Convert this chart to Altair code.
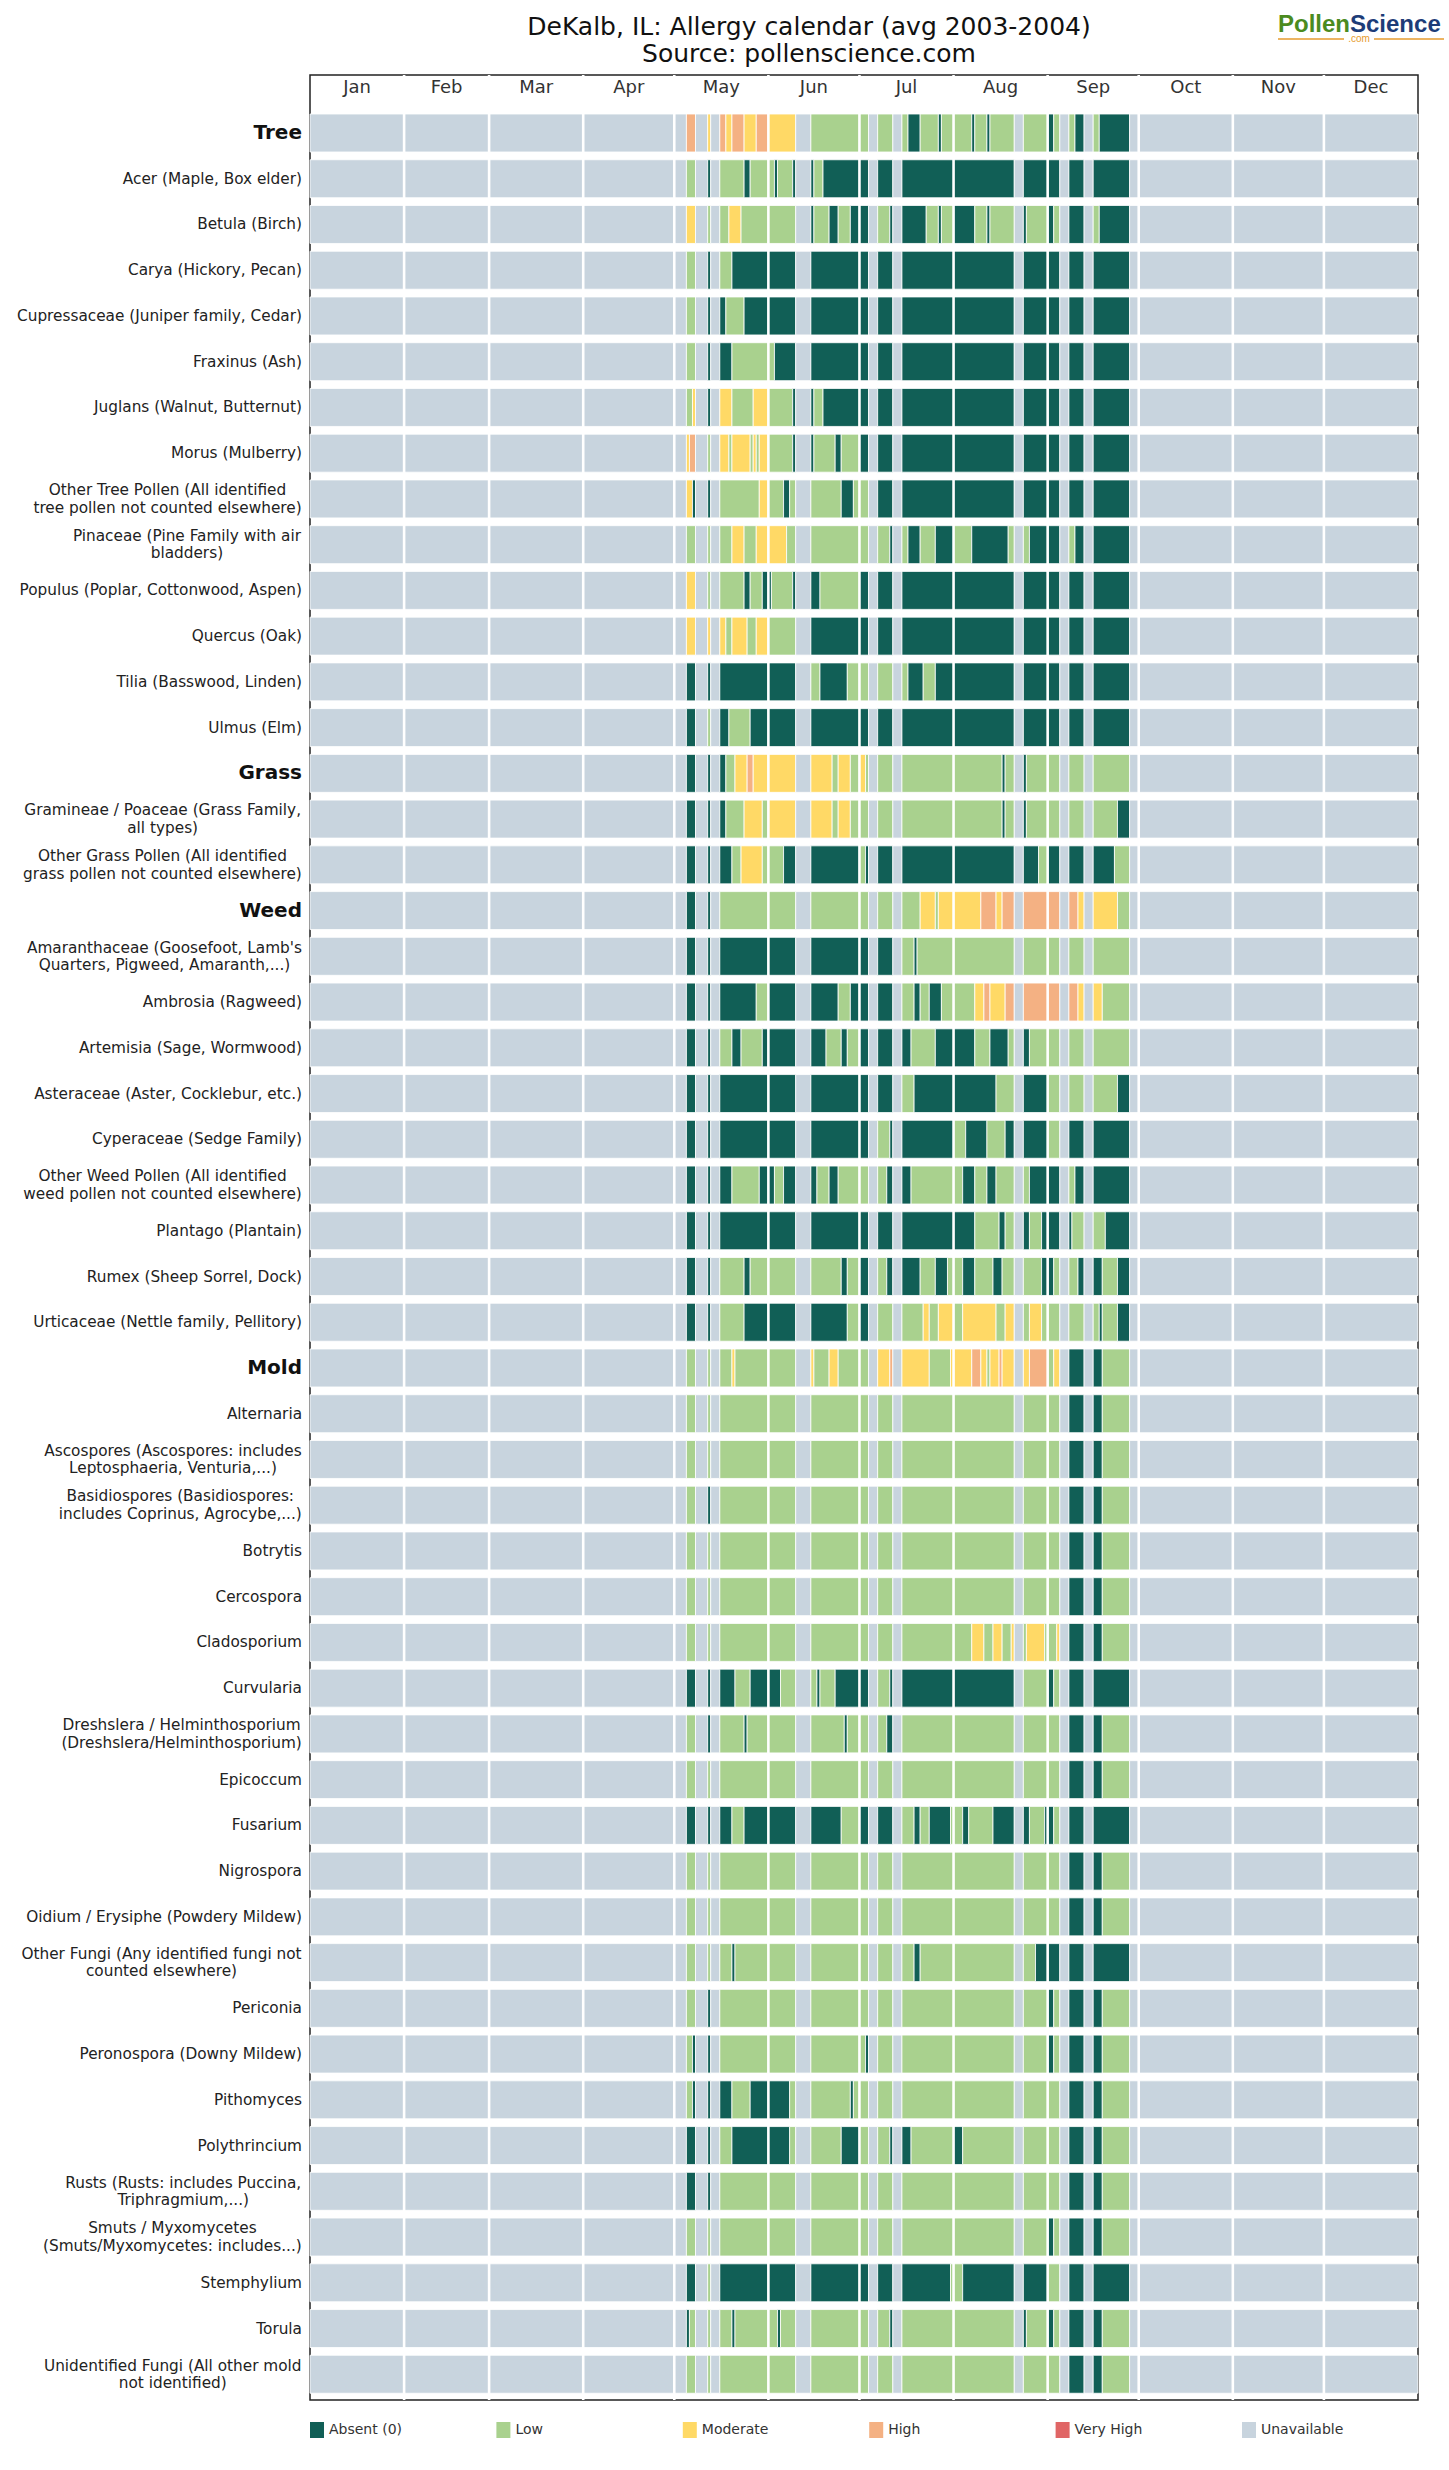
import altair as alt
import pandas as pd

# ---------------- data ----------------
MONTHS = ["Jan", "Feb", "Mar", "Apr", "May", "Jun", "Jul", "Aug", "Sep", "Oct", "Nov", "Dec"]
MONTH_DAYS = [31, 28, 31, 30, 31, 30, 31, 31, 30, 31, 30, 31]
LEVELS = ["Absent (0)", "Low", "Moderate", "High", "Very High", "Unavailable"]
LEVEL_CODES = ["A", "L", "M", "H", "V", "U"]
LEVEL_COLORS = ["#115f56", "#a9d18e", "#ffd966", "#f4b183", "#e06666", "#c8d4de"]

TITLE_LINES = ["DeKalb, IL: Allergy calendar (avg 2003-2004)", "Source: pollenscience.com"]
LOGO_PARTS = ["Pollen", "Science", ".com"]
GROUP_HEADERS = ["Tree", "Grass", "Weed", "Mold"]

# run-length codes per month, May | Jun | Jul | Aug | Sep (other months unavailable)
TREE_ROWS = [
    ("Tree", "U4 H3 U4 M1 U3 H2 M2 H4 M4 H4 | M9 U5 L16 | L3 U3 L5 U3 L2 A4 L6 A1 L4 | L6 A1 L4 A1 L8 U3 L8 | A2 L2 U3 L2 A3 U3 L2 A10 U3"),
    ("Acer (Maple, Box elder)", "U4 L3 U4 A1 U3 L8 A2 L6 | L2 A1 L5 A1 U5 A1 L3 A12 | A3 U3 A5 U3 A17 | A20 U3 A8 | A4 U3 A5 U3 A12 U3"),
    ("Betula (Birch)", "U4 M3 U4 L1 U3 L3 M4 L9 | L9 U5 A1 L5 A3 L4 A3 | A3 U3 L4 A1 U3 A8 L4 A1 L4 | A7 L4 A1 L8 U3 A1 L7 | A2 L2 U3 A5 U3 L2 A10 U3"),
    ("Carya (Hickory, Pecan)", "U4 L3 U4 A1 U3 L4 A12 | A9 U5 A16 | A3 U3 A5 U3 A17 | A20 U3 A8 | A4 U3 A5 U3 A12 U3"),
    ("Cupressaceae (Juniper family, Cedar)", "U4 L3 U4 A1 U3 A2 L6 A8 | A9 U5 A16 | A3 U3 A5 U3 A17 | A20 U3 A8 | A4 U3 A5 U3 A12 U3"),
    ("Fraxinus (Ash)", "U4 L3 U4 A1 U3 A4 L12 | L2 A7 U5 A16 | A3 U3 A5 U3 A17 | A20 U3 A8 | A4 U3 A5 U3 A12 U3"),
    ("Juglans (Walnut, Butternut)", "U4 L2 M1 U4 A1 U3 M4 L7 M5 | L8 A1 U5 A1 L3 A12 | A3 U3 A5 U3 A17 | A20 U3 A8 | A4 U3 A5 U3 A12 U3"),
    ("Morus (Mulberry)", "U4 M1 H2 U4 L1 U3 M3 L1 M6 L1 M1 L1 M3 | L8 A1 U5 A1 L7 A2 L6 | A3 U3 A5 U3 A17 | A20 U3 A8 | A4 U3 A5 U3 A12 U3"),
    ("Other Tree Pollen (All identified\ntree pollen not counted elsewhere)", "U4 M2 A1 U4 A1 U3 L13 M3 | L5 A2 L2 U5 L10 A4 L2 | L3 U3 A5 U3 A17 | A20 U3 A8 | A4 U3 A5 U3 A12 U3"),
    ("Pinaceae (Pine Family with air\nbladders)", "U4 L3 U4 L1 U3 L4 M4 L4 M4 | M6 L3 U5 L16 | L3 U3 L4 A1 U3 L2 A4 L5 A6 | L6 A12 L2 U3 L2 A6 | A4 U3 L2 A3 U3 A12 U3"),
    ("Populus (Poplar, Cottonwood, Aspen)", "U4 M3 U4 L1 U3 L8 A2 L4 A2 | A1 L7 A1 U5 A3 L13 | A3 U3 A5 U3 A17 | A20 U3 A8 | A4 U3 A5 U3 A12 U3"),
    ("Quercus (Oak)", "U4 M3 U4 M1 U3 M2 L2 M5 L3 M4 | L9 U5 A16 | A3 U3 A5 U3 A17 | A20 U3 A8 | A4 U3 A5 U3 A12 U3"),
    ("Tilia (Basswood, Linden)", "U4 A3 U4 A1 U3 A16 | A9 U5 L3 A9 L4 | L3 U3 L5 U3 L2 A5 L4 A6 | A20 U3 A8 | A4 U3 A5 U3 A12 U3"),
    ("Ulmus (Elm)", "U4 A3 U4 L1 U3 A3 L7 A6 | A9 U5 A16 | A3 U3 A5 U3 A17 | A20 U3 A8 | A4 U3 A5 U3 A12 U3"),
]
GRASS_ROWS = [
    ("Grass", "U4 A3 U4 A1 U3 A2 L3 M4 H2 M5 | M9 U5 M7 L2 M4 L3 | M2 L1 U3 L5 U3 L17 | L16 A1 L3 U3 A1 L7 | L4 U3 L5 U3 L12 U3"),
    ("Gramineae / Poaceae (Grass Family,\nall types)", "U4 A3 U4 A1 U3 A2 L6 M6 L2 | M9 U5 M7 L2 M4 L3 | L3 U3 L5 U3 L17 | L16 A1 L3 U3 A1 L7 | L4 U3 L5 U3 L8 A4 U3"),
    ("Other Grass Pollen (All identified\ngrass pollen not counted elsewhere)", "U4 A3 U4 A1 U3 A4 L3 M7 L2 | L5 A4 U5 A16 | L2 A1 U3 A5 U3 A17 | A20 U3 A5 L3 | A4 U3 A5 U3 A7 L5 U3"),
]
WEED_ROWS = [
    ("Weed", "U4 A3 U4 A1 U3 L16 | L9 U5 L16 | L3 U3 L5 U3 L6 M5 L1 M5 | M9 H5 M2 H4 U3 H8 | H4 U3 H3 M2 U3 M8 L4 U3"),
    ("Amaranthaceae (Goosefoot, Lamb's\nQuarters, Pigweed, Amaranth,...)", "U4 A3 U4 A1 U3 A16 | A9 U5 A16 | A3 U3 A5 U3 L4 A1 L12 | L20 U3 L8 | L4 U3 L5 U3 L12 U3"),
    ("Ambrosia (Ragweed)", "U4 A3 U4 A1 U3 A12 L4 | A9 U5 A9 L4 A3 | A3 U3 A5 U3 L4 A2 L3 A4 L4 | L7 M3 H2 M5 H3 U3 H8 | H4 U3 H3 M2 U3 M3 L9 U3"),
    ("Artemisia (Sage, Wormwood)", "U4 A3 U4 A1 U3 L4 A3 L7 A2 | A9 U5 A5 L5 A2 L4 | A3 U3 A5 U3 A3 L8 A6 | A7 L5 A6 L2 U3 A2 L6 | L4 U3 L5 U3 L12 U3"),
    ("Asteraceae (Aster, Cocklebur, etc.)", "U4 A3 U4 A1 U3 A16 | A9 U5 A16 | A3 U3 A5 U3 L4 A13 | A14 L6 U3 A8 | L4 U3 L5 U3 L8 A4 U3"),
    ("Cyperaceae (Sedge Family)", "U4 A3 U4 A1 U3 A16 | A9 U5 A16 | A3 U3 L4 A1 U3 A17 | L4 A7 L6 A3 U3 A8 | L4 U3 A5 U3 A12 U3"),
    ("Other Weed Pollen (All identified\nweed pollen not counted elsewhere)", "U4 A3 U4 A1 U3 A4 L9 A3 | A2 L3 A4 U5 A2 L4 A3 L7 | L3 U3 L3 A2 U3 A3 L14 | L3 A4 L4 A3 L6 U3 L2 A6 | A4 U3 L2 A3 U3 A12 U3"),
    ("Plantago (Plantain)", "U4 A3 U4 A1 U3 A16 | A9 U5 A16 | A3 U3 A5 U3 A17 | A7 L8 A2 L3 U3 A2 L4 A2 | A4 U3 A1 L4 U3 L4 A8 U3"),
    ("Rumex (Sheep Sorrel, Dock)", "U4 A3 U4 A1 U3 L8 A2 L6 | L9 U5 L10 A2 L4 | A3 U3 L3 A2 U3 A6 L5 A4 L2 | L3 A4 L6 A3 L4 U3 L6 A2 | A2 L2 U3 L3 A2 U3 A3 L5 A4 U3"),
    ("Urticaceae (Nettle family, Pellitory)", "U4 A3 U4 A1 U3 L8 A8 | A9 U5 A12 L4 | A3 U3 L5 U3 L7 M2 L3 M5 | L3 M11 L3 M3 U3 L2 M4 L2 | L4 U3 L5 U3 L2 A1 L5 A4 U3"),
]
MOLD_ROWS = [
    ("Mold", "U4 L3 U4 L1 U3 L4 M1 L11 | L9 U5 M1 L5 M3 L7 | L3 U3 M4 H1 U3 M9 L7 M1 | M6 H3 M2 L1 M3 H1 M4 U3 M2 H6 | L2 M2 U3 A5 U3 A3 L9 U3"),
    ("Alternaria", "U4 L3 U4 L1 U3 L16 | L9 U5 L16 | L3 U3 L5 U3 L17 | L20 U3 L8 | L4 U3 A5 U3 A3 L9 U3"),
    ("Ascospores (Ascospores: includes\nLeptosphaeria, Venturia,...)", "U4 L3 U4 L1 U3 L16 | L9 U5 L16 | L3 U3 L5 U3 L17 | L20 U3 L8 | L4 U3 A5 U3 A3 L9 U3"),
    ("Basidiospores (Basidiospores:\nincludes Coprinus, Agrocybe,...)", "U4 L3 U4 A1 U3 L16 | L9 U5 L16 | L3 U3 L5 U3 L17 | L20 U3 L8 | L4 U3 A5 U3 A3 L9 U3"),
    ("Botrytis", "U4 L3 U4 L1 U3 L16 | L9 U5 L16 | L3 U3 L5 U3 L17 | L20 U3 L8 | L4 U3 A5 U3 A3 L9 U3"),
    ("Cercospora", "U4 L3 U4 L1 U3 L16 | L9 U5 L16 | L3 U3 L5 U3 L17 | L20 U3 L8 | L4 U3 A5 U3 A3 L9 U3"),
    ("Cladosporium", "U4 L3 U4 L1 U3 L16 | L9 U5 L16 | L3 U3 L5 U3 L17 | L6 M4 L3 M3 L3 M1 U3 L1 M6 L1 | L3 M1 U3 A5 U3 A3 L9 U3"),
    ("Curvularia", "U4 A3 U4 A1 U3 A5 L5 A6 | A4 L5 U5 L2 A1 L5 A8 | A3 U3 L4 A1 U3 A17 | A20 U3 L8 | A2 L2 U3 A5 U3 A12 U3"),
    ("Dreshslera / Helminthosporium\n(Dreshslera/Helminthosporium)", "U4 L3 U4 A1 U3 L8 A1 L7 | L9 U5 L11 A1 L4 | L3 U3 L3 A2 U3 L17 | L20 U3 L8 | L4 U3 A5 U3 A3 L9 U3"),
    ("Epicoccum", "U4 L3 U4 L1 U3 L16 | L9 U5 L16 | L3 U3 L5 U3 L17 | L20 U3 L8 | L4 U3 A5 U3 A3 L9 U3"),
    ("Fusarium", "U4 A3 U4 A1 U3 A4 L4 A8 | A9 U5 A10 L6 | A3 U3 A5 U3 L4 A2 L3 A7 L1 | L3 A2 L8 A7 U3 A2 L5 A1 | A2 L2 U3 A5 U3 A12 U3"),
    ("Nigrospora", "U4 L3 U4 L1 U3 L16 | L9 U5 L16 | L3 U3 L5 U3 L17 | L20 U3 L8 | L4 U3 A5 U3 A3 L9 U3"),
    ("Oidium / Erysiphe (Powdery Mildew)", "U4 L3 U4 L1 U3 L16 | L9 U5 L16 | L3 U3 L5 U3 L17 | L20 U3 L8 | L4 U3 A5 U3 A3 L9 U3"),
    ("Other Fungi (Any identified fungi not\ncounted elsewhere)", "U4 L3 U4 L1 U3 L4 A1 L11 | L9 U5 L16 | L3 U3 L5 U3 L4 A2 L11 | L20 U3 L4 A4 | A4 U3 A5 U3 A12 U3"),
    ("Periconia", "U4 L3 U4 A1 U3 L16 | L9 U5 L16 | L3 U3 L5 U3 L17 | L20 U3 L8 | A2 L2 U3 A5 U3 A3 L9 U3"),
    ("Peronospora (Downy Mildew)", "U4 L2 A1 U4 A1 U3 L16 | L9 U5 L16 | L2 A1 U3 L5 U3 L17 | L20 U3 L8 | A2 L2 U3 A5 U3 A3 L9 U3"),
    ("Pithomyces", "U4 L2 A1 U4 A1 U3 A4 L6 A6 | A7 L2 U5 L13 A1 L2 | L3 U3 L5 U3 L17 | L20 U3 L8 | L4 U3 A5 U3 A3 L9 U3"),
    ("Polythrincium", "U4 A3 U4 A1 U3 L4 A12 | A7 L2 U5 L10 A6 | L3 U3 L4 A1 U3 A3 L14 | A3 L17 U3 L8 | L4 U3 A5 U3 A3 L9 U3"),
    ("Rusts (Rusts: includes Puccina,\nTriphragmium,...)", "U4 A3 U4 A1 U3 L16 | L9 U5 L16 | L3 U3 L5 U3 L17 | L20 U3 L8 | L4 U3 A5 U3 A3 L9 U3"),
    ("Smuts / Myxomycetes\n(Smuts/Myxomycetes: includes...)", "U4 L3 U4 L1 U3 L16 | L9 U5 L16 | L3 U3 L5 U3 L17 | L20 U3 L8 | A2 L2 U3 A5 U3 A3 L9 U3"),
    ("Stemphylium", "U4 A3 U4 L1 U3 A16 | A9 U5 A16 | A3 U3 A5 U3 A16 L1 | L3 A17 U3 A8 | L4 U3 A5 U3 A12 U3"),
    ("Torula", "U4 A1 L2 U4 L1 U3 L4 A1 L11 | L3 A1 L5 U5 L16 | L3 U3 L4 A1 U3 L17 | L20 U3 A1 L7 | A2 L2 U3 A5 U3 A3 L9 U3"),
    ("Unidentified Fungi (All other mold\nnot identified)", "U4 L3 U4 L1 U3 L16 | L9 U5 L16 | L3 U3 L5 U3 L17 | L20 U3 L8 | L4 U3 A5 U3 A3 L9 U3"),
]

ALL_ROWS = TREE_ROWS + GRASS_ROWS + WEED_ROWS + MOLD_ROWS

# ---------------- layout ----------------
PLOT_W, PLOT_H = 1108, 2325
PAD = {"left": 310, "top": 75, "right": 31, "bottom": 70}
ROW_STEP = 45.74
FIRST_ROW = 58.0
HALF = 0.415
Y_MIN = -FIRST_ROW / ROW_STEP
Y_MAX = (PLOT_H - FIRST_ROW) / ROW_STEP
MONTH_LABEL_Y = (13.0 - FIRST_ROW) / ROW_STEP
LABEL_RIGHT = -8
LABEL_SIZE = 15.3
LINE_GAP = 17.5 / ROW_STEP
FONT = "DejaVu Sans"

DV = {' ': 651, '!': 823, "'": 563, '(': 799, ')': 799, ',': 651, '-': 739, '.': 651, '/': 690, ':': 690,
      'A': 1401, 'B': 1405, 'C': 1430, 'D': 1577, 'E': 1294, 'F': 1178, 'G': 1587, 'H': 1540, 'I': 604,
      'J': 604, 'K': 1343, 'L': 1141, 'M': 1767, 'N': 1532, 'O': 1612, 'P': 1235, 'Q': 1612, 'R': 1423,
      'S': 1300, 'T': 1251, 'U': 1499, 'V': 1401, 'W': 2025, 'X': 1403, 'Y': 1251, 'Z': 1403,
      'a': 1255, 'b': 1300, 'c': 1126, 'd': 1300, 'e': 1260, 'f': 721, 'g': 1300, 'h': 1298, 'i': 569,
      'j': 569, 'k': 1186, 'l': 569, 'm': 1995, 'n': 1298, 'o': 1253, 'p': 1300, 'q': 1300, 'r': 842,
      's': 1067, 't': 803, 'u': 1298, 'v': 1212, 'w': 1675, 'x': 1212, 'y': 1212, 'z': 1075}


def text_w(s, size):
    return sum(DV.get(ch, 1303) for ch in s) / 2048.0 * size


def parse_month(spec, ndays):
    out = []
    for tok in spec.split():
        out.append((tok[0], int(tok[1:])))
    total = sum(n for _, n in out)
    if total < ndays:
        out.append(("U", ndays - total))
    elif total > ndays:
        trimmed, acc = [], 0
        for c, n in out:
            if acc >= ndays:
                break
            n = min(n, ndays - acc)
            trimmed.append((c, n))
            acc += n
        out = trimmed
    return out


month_start = [sum(MONTH_DAYS[:i]) for i in range(12)]
recs = []
for r, (label, spec) in enumerate(ALL_ROWS):
    parts = [p.strip() for p in spec.split("|")]
    for m in range(12):
        if 4 <= m <= 8:
            runs = parse_month(parts[m - 4], MONTH_DAYS[m])
        else:
            runs = [("U", MONTH_DAYS[m])]
        pos = month_start[m]
        for code, n in runs:
            recs.append({"row": r, "d0": pos, "d1": pos + n, "y0": r - HALF, "y1": r + HALF,
                         "level": LEVELS[LEVEL_CODES.index(code)]})
            pos += n
runs_df = pd.DataFrame(recs)

XS = alt.Scale(domain=[0, 365], nice=False, zero=False)
YS = alt.Scale(domain=[Y_MIN, Y_MAX], reverse=True, nice=False, zero=False)
CS = alt.Scale(domain=LEVELS, range=LEVEL_COLORS)

cells = alt.Chart(runs_df).mark_rect(stroke="white", strokeWidth=0.8).encode(
    x=alt.X("d0:Q", scale=XS, axis=None), x2="d1:Q",
    y=alt.Y("y0:Q", scale=YS, axis=None), y2="y1:Q",
    color=alt.Color("level:N", scale=CS, legend=None),
)

seps = alt.Chart(pd.DataFrame({"d": month_start[1:]})).mark_rule(color="white", strokeWidth=2.6).encode(
    x=alt.X("d:Q", scale=XS, axis=None))

month_df = pd.DataFrame({"name": MONTHS,
                         "mid": [month_start[i] + MONTH_DAYS[i] / 2 for i in range(12)],
                         "yv": [MONTH_LABEL_Y] * 12})
mlab = alt.Chart(month_df).mark_text(fontSize=18, font=FONT, color="#333333").encode(
    x=alt.X("mid:Q", scale=XS, axis=None), y=alt.Y("yv:Q", scale=YS, axis=None), text="name:N")

single, multi, groups = [], [], []
for r, (label, _) in enumerate(ALL_ROWS):
    lines = label.split("\n")
    if label in GROUP_HEADERS:
        groups.append({"t": label, "yv": r})
    elif len(lines) == 1:
        single.append({"t": label, "yv": r})
    else:
        bw = max(text_w(l, LABEL_SIZE) for l in lines)
        cx = LABEL_RIGHT - bw / 2
        for k, l in enumerate(lines):
            multi.append({"t": l, "xp": cx, "yv": r + (k - (len(lines) - 1) / 2) * LINE_GAP})

lab_single = alt.Chart(pd.DataFrame(single)).mark_text(fontSize=LABEL_SIZE, font=FONT, color="#222222", align="right").encode(
    x=alt.value(LABEL_RIGHT), y=alt.Y("yv:Q", scale=YS, axis=None), text="t:N")
lab_multi = alt.Chart(pd.DataFrame(multi)).mark_text(fontSize=LABEL_SIZE, font=FONT, color="#222222", align="center").encode(
    x=alt.X("xp:Q", scale=None, axis=None), y=alt.Y("yv:Q", scale=YS, axis=None), text="t:N")
lab_group = alt.Chart(pd.DataFrame(groups)).mark_text(fontSize=20, font=FONT, fontWeight="bold", color="#111111", align="right").encode(
    x=alt.value(LABEL_RIGHT), y=alt.Y("yv:Q", scale=YS, axis=None), text="t:N")

title_df = pd.DataFrame({"t": TITLE_LINES, "py": [-48.2, -21.5]})
title = alt.Chart(title_df).mark_text(fontSize=25, font=FONT, color="#111111").encode(
    x=alt.value(499), y=alt.Y("py:Q", scale=None, axis=None), text="t:N")

logo1 = alt.Chart(pd.DataFrame({"t": [LOGO_PARTS[0]]})).mark_text(
    fontSize=24, font="Liberation Sans", fontWeight="bold", color="#4b8b1f", align="right").encode(
    x=alt.value(1040), y=alt.value(-50), text="t:N")
logo2 = alt.Chart(pd.DataFrame({"t": [LOGO_PARTS[1]]})).mark_text(
    fontSize=24, font="Liberation Sans", fontWeight="bold", color="#1d3c78", align="left").encode(
    x=alt.value(1040), y=alt.value(-50), text="t:N")
logo3 = alt.Chart(pd.DataFrame({"t": [LOGO_PARTS[2]]})).mark_text(
    fontSize=10, font="Liberation Sans", color="#e69b2e").encode(
    x=alt.value(1049), y=alt.value(-36), text="t:N")
logo_l1 = alt.Chart(pd.DataFrame({"t": [0]})).mark_rule(color="#e69b2e", strokeWidth=1.5).encode(
    x=alt.value(968), x2=alt.value(1034), y=alt.value(-36))
logo_l2 = alt.Chart(pd.DataFrame({"t": [0]})).mark_rule(color="#e69b2e", strokeWidth=1.5).encode(
    x=alt.value(1064), x2=alt.value(1134), y=alt.value(-36))

LEG_STEP = 186.4
leg_df = pd.DataFrame({"level": LEVELS,
                       "lx": [i * LEG_STEP for i in range(len(LEVELS))],
                       "lx2": [i * LEG_STEP + 14 for i in range(len(LEVELS))],
                       "tx": [i * LEG_STEP + 19 for i in range(len(LEVELS))],
                       "ly": [PLOT_H + 22] * len(LEVELS),
                       "ly2": [PLOT_H + 38] * len(LEVELS),
                       "ty": [PLOT_H + 30] * len(LEVELS)})
leg_sw = alt.Chart(leg_df).mark_rect().encode(
    x=alt.X("lx:Q", scale=None, axis=None), x2="lx2:Q",
    y=alt.Y("ly:Q", scale=None, axis=None), y2="ly2:Q",
    color=alt.Color("level:N", scale=CS, legend=None))
leg_tx = alt.Chart(leg_df).mark_text(fontSize=14, font=FONT, color="#333333", align="left").encode(
    x=alt.X("tx:Q", scale=None, axis=None), y=alt.Y("ty:Q", scale=None, axis=None), text="level:N")

chart = alt.layer(
    cells, seps, mlab, lab_single, lab_multi, lab_group, title,
    logo1, logo2, logo3, logo_l1, logo_l2, leg_sw, leg_tx
).properties(
    width=PLOT_W, height=PLOT_H, padding=PAD,
    autosize=alt.AutoSizeParams(type="none"),
    background="white",
).configure_view(stroke="#222222", strokeWidth=1.5)

chart.save("out.html", embed_options={"renderer": "svg", "actions": False})
